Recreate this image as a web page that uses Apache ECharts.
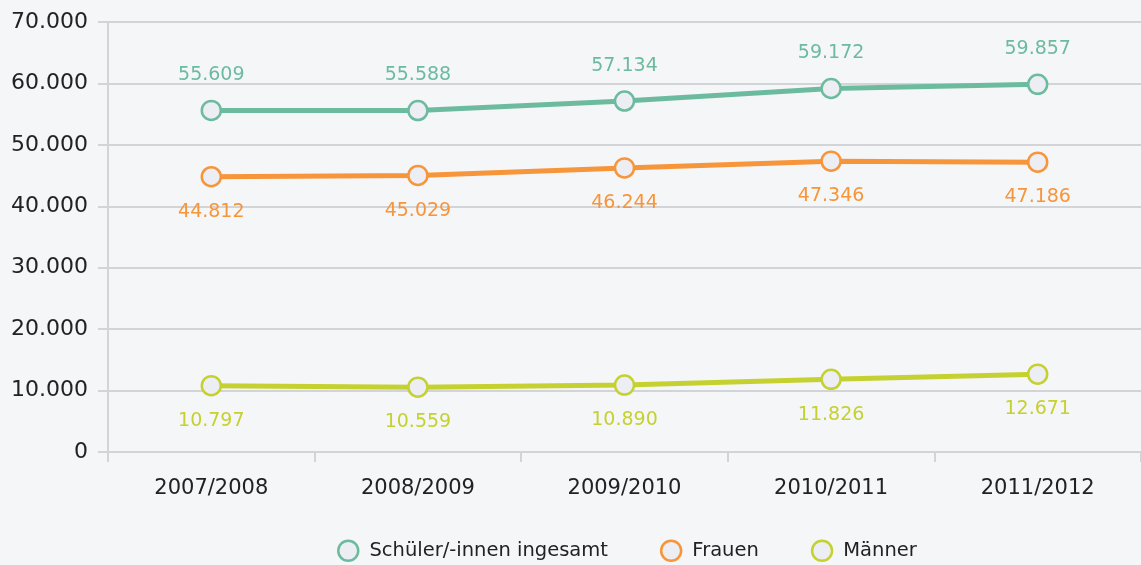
<!DOCTYPE html>
<html lang="de">
<head>
<meta charset="UTF-8">
<title>Schüler/-innen</title>
<script src="https://cdn.jsdelivr.net/npm/echarts@6/dist/echarts.min.js"></script>
<style>
    * { margin: 0; }
    html, body { height: 100%; background: #f5f6f8; }
    #chart { width: 1141px; height: 565px; }
</style>
</head>
<body>
<div id="chart"></div>
<script>
    // Schuljahre
    const years = ['2007/2008', '2008/2009', '2009/2010', '2010/2011', '2011/2012'];
    const total = [55609, 55588, 57134, 59172, 59857];
    const women = [44812, 45029, 46244, 47346, 47186];
    const men = [10797, 10559, 10890, 11826, 12671];
    const yTicks = { min: 0, max: 70000, interval: 10000 };

    const fmt = v => String(v).replace(/\B(?=(\d{3})+(?!\d))/g, '.');
    const font = '"DejaVu Sans", sans-serif';

    function line(name, data, color, pos) {
        return {
            name: name,
            type: 'line',
            data: data,
            symbol: 'circle',
            symbolSize: 19,
            lineStyle: { width: 5, color: color },
            itemStyle: { color: '#eceef3', borderColor: color, borderWidth: 2.5 },
            label: {
                show: true,
                position: pos,
                distance: 15,
                color: color,
                fontSize: 19,
                fontFamily: font,
                formatter: p => fmt(p.value)
            },
            emphasis: { disabled: true }
        };
    }

    const chart = echarts.init(document.getElementById('chart'));
    chart.setOption({
        backgroundColor: '#f5f6f8',
        animation: false,
        grid: { left: 108, right: 0, top: 22, bottom: 113 },
        legend: {
            bottom: -2,
            left: 332,
            icon: 'circle',
            itemWidth: 20,
            itemHeight: 20,
            itemGap: 52,
            itemStyle: { color: '#eceef3', borderWidth: 2.5 },
            formatter: name => ' ' + name,
            textStyle: { fontSize: 19.5, color: '#222', fontFamily: font }
        },
        xAxis: {
            type: 'category',
            data: years,
            axisLine: { lineStyle: { color: '#d2d4d8', width: 2 } },
            axisTick: { show: true, length: 10, lineStyle: { color: '#d2d4d8', width: 2 } },
            axisLabel: { fontSize: 21, color: '#222', margin: 26, fontFamily: font }
        },
        yAxis: {
            type: 'value',
            min: yTicks.min,
            max: yTicks.max,
            interval: yTicks.interval,
            axisLine: { show: true, lineStyle: { color: '#d2d4d8', width: 2 } },
            axisTick: { show: true, length: 10, lineStyle: { color: '#d2d4d8', width: 2 } },
            splitLine: { lineStyle: { color: '#d2d4d8', width: 2 } },
            axisLabel: { fontSize: 22, color: '#222', margin: 20, fontFamily: font, formatter: fmt }
        },
        series: [
            line('Schüler/-innen ingesamt', total, '#6dbb9f', 'top'),
            line('Frauen', women, '#f7953a', 'bottom'),
            line('Männer', men, '#c5d130', 'bottom')
        ]
    });
</script>
</body>
</html>
